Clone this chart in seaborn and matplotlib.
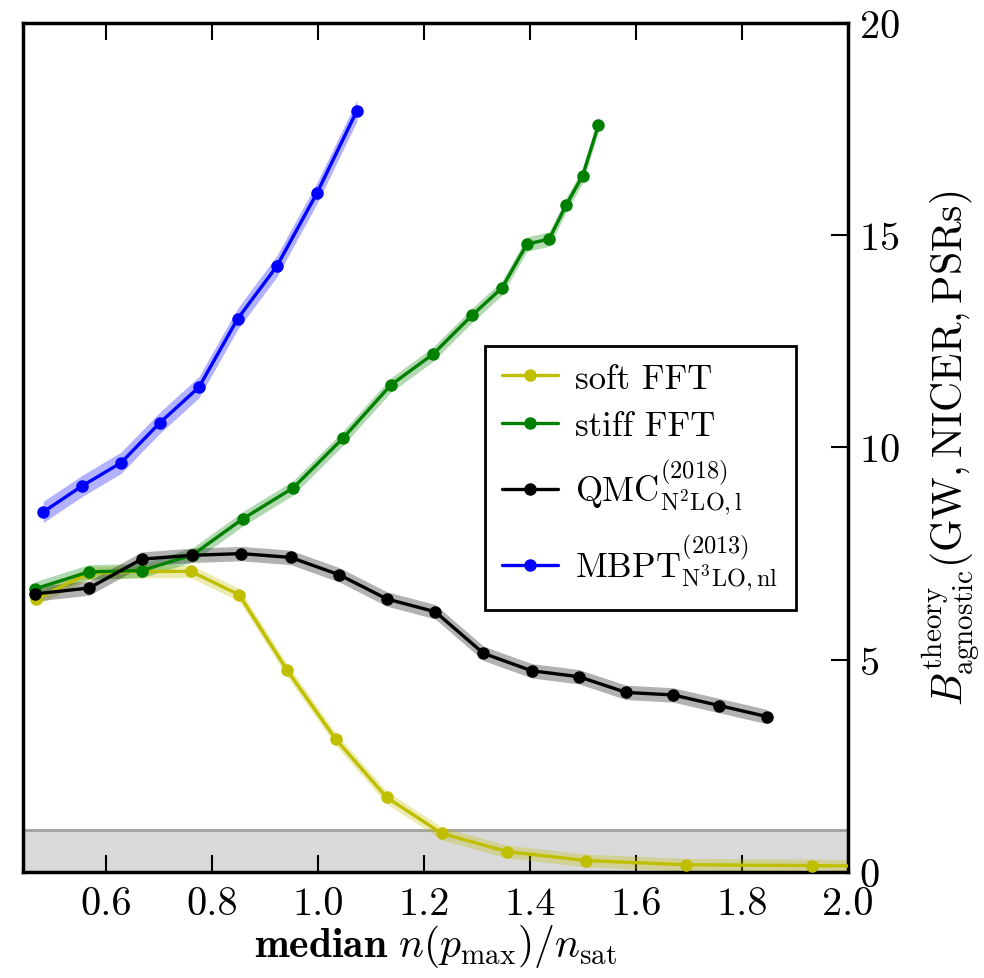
import numpy as np
import pandas as pd
import matplotlib
matplotlib.use("Agg")
import matplotlib.pyplot as plt
import seaborn as sns

# soft FFT
soft_x = [0.468, 0.567, 0.667, 0.760, 0.851, 0.941, 1.033, 1.129, 1.233, 1.356, 1.505, 1.694, 1.932, 2.10]
soft_y = [6.43, 7.04, 7.08, 7.08, 6.53, 4.76, 3.13, 1.76, 0.91, 0.48, 0.27, 0.17, 0.15, 0.13]
soft_err = 0.15

# stiff FFT
stiff_x = [0.466, 0.567, 0.667, 0.763, 0.858, 0.953, 1.047, 1.137, 1.217, 1.291, 1.347, 1.394,
           1.436, 1.468, 1.499, 1.529]
stiff_y = [6.67, 7.07, 7.10, 7.47, 8.32, 9.05, 10.22, 11.47, 12.2, 13.12, 13.76, 14.79,
           14.91, 15.71, 16.4, 17.6]
stiff_err = 0.17

# QMC
qmc_x = [0.466, 0.568, 0.667, 0.762, 0.855, 0.948, 1.040, 1.130, 1.221, 1.312, 1.403, 1.492,
         1.581, 1.670, 1.757, 1.847]
qmc_y = [6.55, 6.69, 7.37, 7.46, 7.50, 7.41, 7.00, 6.43, 6.13, 5.15, 4.74, 4.60,
         4.23, 4.17, 3.92, 3.66]
qmc_err = 0.17

# MBPT
mbpt_x = [0.481, 0.554, 0.628, 0.701, 0.775, 0.848, 0.922, 0.998, 1.073]
mbpt_y = [8.48, 9.09, 9.64, 10.58, 11.42, 13.03, 14.27, 16.0, 17.93]
mbpt_err = 0.25

labels = ["soft FFT", "stiff FFT",
          r"QMC$^{(2018)}_{\rm N^2LO,l}$",
          r"MBPT$^{(2013)}_{\rm N^3LO,nl}$"]
colors = [(0.75, 0.75, 0.0), (0.0, 0.5, 0.0), "k", (0.0, 0.0, 1.0)]

sns.set_style("ticks")
plt.rcParams["font.family"] = ["cmr10"]
plt.rcParams["mathtext.fontset"] = "cm"
plt.rcParams["axes.formatter.use_mathtext"] = True
plt.rcParams["axes.unicode_minus"] = False
plt.rcParams["axes.edgecolor"] = "k"
plt.rcParams["xtick.color"] = "k"
plt.rcParams["ytick.color"] = "k"
plt.rcParams["text.color"] = "k"
plt.rcParams["axes.labelcolor"] = "k"

fig = plt.figure(figsize=(9.84, 9.79), dpi=100)
ax = fig.add_axes([0.0234, 0.1083, 0.8384, 0.8672])

# excluded region
ax.axhspan(0, 1, color="#d9d9d9", zorder=0, lw=0)
ax.axhline(1, color="#a0a0a0", lw=2, zorder=1)

series = [(soft_x, soft_y, soft_err), (stiff_x, stiff_y, stiff_err),
          (qmc_x, qmc_y, qmc_err), (mbpt_x, mbpt_y, mbpt_err)]
for (xs, ys, err), lab, col in zip(series, labels, colors):
    df = pd.DataFrame({"x": xs, "y": ys})
    yy = np.array(ys)
    ax.fill_between(xs, yy - err, yy + err, color=col, alpha=0.3, lw=0, zorder=2)
    sns.lineplot(data=df, x="x", y="y", ax=ax, color=col, lw=2.4, marker="o",
                 markersize=9, markeredgewidth=0, sort=False, estimator=None,
                 label=lab, zorder=3)

ax.set_xlim(0.443, 2.0)
ax.set_ylim(0, 20)
ax.set_xticks([0.6, 0.8, 1.0, 1.2, 1.4, 1.6, 1.8, 2.0])
ax.set_yticks([0, 5, 10, 15, 20])
ax.xaxis.set_major_formatter(matplotlib.ticker.FormatStrFormatter("%.1f"))

ax.yaxis.tick_right()
ax.yaxis.set_label_position("right")
ax.tick_params(axis="x", which="both", direction="in", top=True, bottom=True,
               length=12, width=1.5, labelsize=29, pad=10)
ax.tick_params(axis="y", which="both", direction="in", left=False, right=True,
               length=12, width=1.5, labelsize=29, pad=8)
for s in ax.spines.values():
    s.set_linewidth(2.5)
    s.set_color("k")
    s.set_visible(True)

ax.set_xlabel(r"$\mathbf{median}\ n(p_{\max})/n_{\rm sat}$", fontsize=30, labelpad=0)
ax.set_ylabel(r"$B^{\rm theory}_{\rm agnostic}({\rm GW,NICER,PSRs})$", fontsize=30,
              labelpad=14)

leg = ax.legend(loc="upper left", bbox_to_anchor=(0.560, 0.620), fontsize=25,
                frameon=True, fancybox=False, framealpha=1, edgecolor="k",
                handlelength=1.6, handletextpad=0.5, labelspacing=0.45,
                borderpad=0.5, borderaxespad=0)
leg.get_frame().set_linewidth(2)

fig.savefig("out.png", dpi=100)
